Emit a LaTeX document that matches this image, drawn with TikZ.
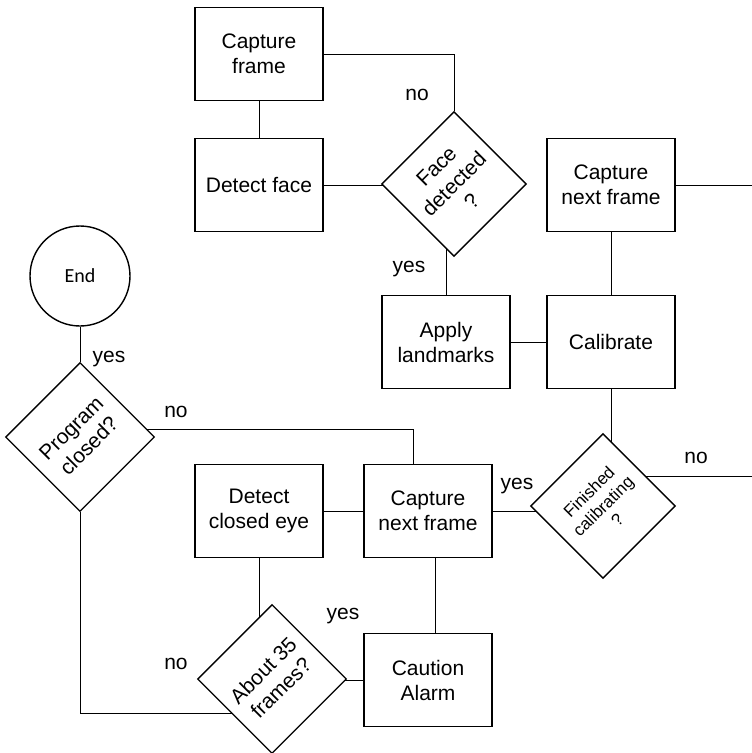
\documentclass[tikz,border=0pt]{standalone}
\usepackage{fontspec}
\setmainfont{Liberation Sans}
\newfontfamily\endfont{Carlito}
\usetikzlibrary{backgrounds}

\tikzset{
  stepbox/.style={draw,fill=white,minimum width=128pt,minimum height=93pt,
    inner sep=0pt,align=center,font=\fontsize{21}{25}\selectfont},
  decision/.style={draw,fill=white,rotate=45,minimum size=#1,inner sep=0pt,
    align=center,font=\fontsize{21}{25}\selectfont},
  decision/.default=102pt,
  answer/.style={anchor=base,inner sep=0pt,font=\fontsize{21}{25}\selectfont}
}

\begin{document}
\begin{tikzpicture}[x=1pt,y=-1pt,line width=1.4pt]

\useasboundingbox (0,0) rectangle (752,753);

% calibration part
\node[stepbox] (capture) at (259,54) {Capture\\frame};
\node[stepbox] (detect) at (259,185) {Detect face};
\node[decision] (face) at (454,184) {Face\\detected\\?};
\node[stepbox] (landmarks) at (446,342) {Apply\\landmarks};
\node[stepbox] (calibrate) at (611,342) {Calibrate};
\node[stepbox] (nextcal) at (611,185) {Capture\\next frame};
\node[decision,font=\fontsize{17}{20}\selectfont] (finished) at (603,506)
  {Finished\\calibrating\\?};

% monitoring part
\node[stepbox] (next) at (428,511) {Capture\\next frame};
\node[stepbox] (closed) at (259,511) {Detect\\closed eye};
\node[stepbox] (alarm) at (428,680) {Caution\\Alarm};
\node[decision=105pt] (frames) at (272,679) {About 35\\frames?};
\node[decision=105pt] (program) at (80,437) {Program\\closed?};
\node[draw,circle,minimum size=100pt,inner sep=0pt,
  font=\endfont\fontsize{20}{24}\selectfont] (end) at (80,276) {End};

\coordinate (outtop) at (752,185);
\coordinate (outno) at (752,476);

\begin{scope}[on background layer]
\draw (capture.east) -| (face.north east);
\draw (capture) -- (detect);
\draw (detect.east) -- (detect.east -| face.center);
\draw (landmarks.north) -- (landmarks.north |- face.center);
\draw (landmarks) -- (calibrate);
\draw (nextcal) -- (calibrate);
\draw (nextcal.east) -- (outtop);
\draw (calibrate.south) -- (calibrate.south |- finished.center);
\draw (outno) -- (outno -| finished.center);
\draw (next.east) -- (next.east -| finished.center);
\draw (closed) -- (next);
\draw ([xshift=-15pt]next.north) |- ([yshift=8pt]program.center);
\draw ([xshift=7pt]next.south) -- ([xshift=7pt]alarm.north);
\draw (alarm.west) -- (alarm.west -| frames.center);
\draw (closed.south) -- (closed.south |- frames.center);
\draw (program.south west) |- ([yshift=-34pt]frames.center);
\draw (end.south) -- (program.north east);
\end{scope}

% answers
\node[answer] (nof) at (417,100) {no};
\node[answer] (yesf) at (409,272) {yes};
\node[answer] (noc) at (696,463) {no};
\node[answer] (yesc) at (517,489) {yes};
\node[answer] (yesp) at (109,362) {yes};
\node[answer] (nop) at (176,417) {no};
\node[answer] (yesa) at (343,619) {yes};
\node[answer] (noa) at (176,669) {no};

\end{tikzpicture}
\end{document}
